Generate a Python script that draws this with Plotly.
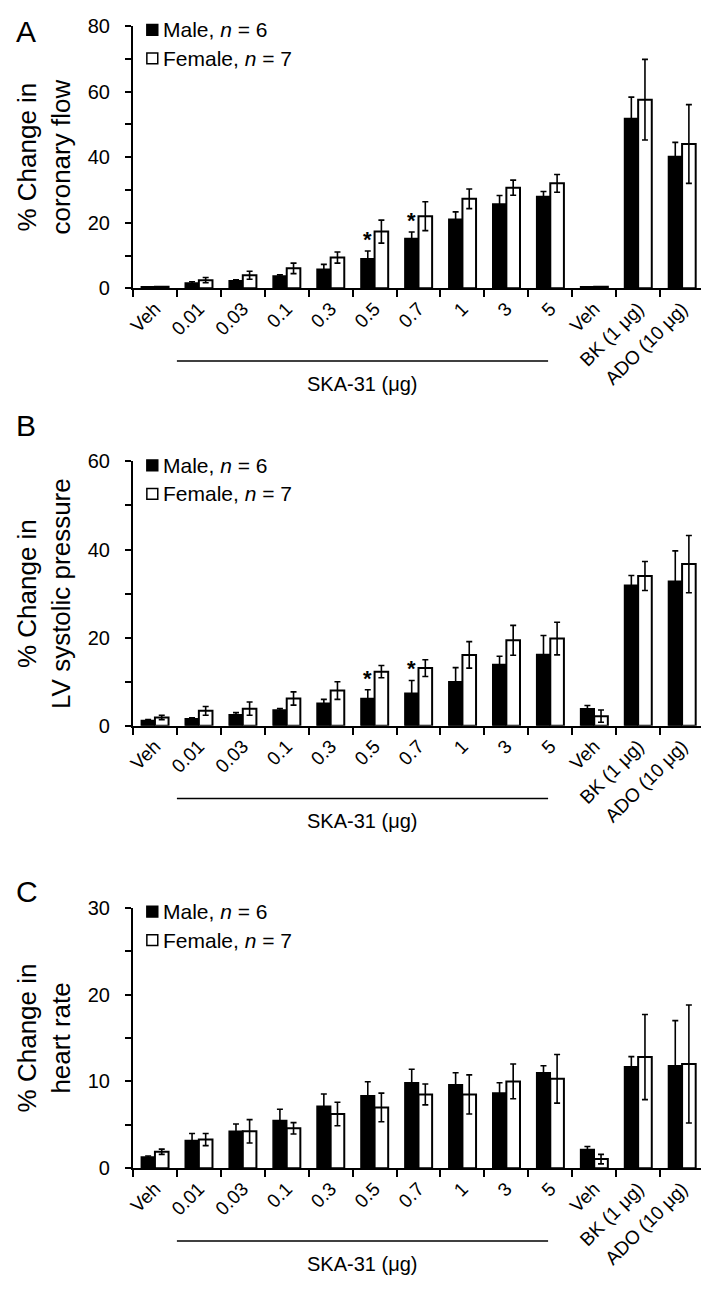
import plotly.graph_objects as go

# ---------------- data ----------------
categories = ["Veh", "0.01", "0.03", "0.1", "0.3", "0.5", "0.7", "1", "3", "5", "Veh", "BK (1 μg)", "ADO (10 μg)"]
cat_keys = ["k%d" % i for i in range(len(categories))]

cf_male = [0.5, 1.6, 2.3, 3.8, 5.8, 9.0, 15.2, 21.1, 25.7, 28.0, 0.5, 51.8, 40.2]
cf_male_err = [0.0, 0.4, 0.3, 0.3, 1.5, 2.4, 2.0, 2.2, 2.6, 1.5, 0.0, 6.5, 4.3]
cf_female = [0.5, 2.5, 4.0, 6.1, 9.4, 17.3, 22.0, 27.3, 30.7, 32.0, 0.5, 57.5, 44.0]
cf_female_err = [0.0, 0.8, 1.2, 1.6, 1.7, 3.5, 4.4, 3.0, 2.3, 2.7, 0.0, 12.3, 12.0]

lv_male = [1.2, 1.6, 2.5, 3.6, 5.1, 6.2, 7.4, 10.0, 13.9, 16.2, 3.9, 31.9, 32.8]
lv_male_err = [0.2, 0.2, 0.5, 0.3, 0.9, 2.0, 2.9, 3.2, 1.9, 4.3, 0.7, 2.2, 6.9]
lv_female = [1.9, 3.4, 3.9, 6.2, 8.0, 12.3, 13.1, 16.1, 19.4, 19.8, 2.2, 34.0, 36.7]
lv_female_err = [0.5, 1.0, 1.5, 1.5, 2.0, 1.4, 1.9, 3.0, 3.4, 3.7, 1.4, 3.3, 6.5]

hr_male = [1.3, 3.2, 4.25, 5.5, 7.15, 8.35, 9.85, 9.6, 8.65, 11.0, 2.15, 11.7, 11.8]
hr_male_err = [0.1, 0.8, 0.85, 1.3, 1.4, 1.6, 1.55, 1.4, 1.2, 0.8, 0.35, 1.15, 5.2]
hr_female = [1.9, 3.3, 4.25, 4.6, 6.25, 7.0, 8.5, 8.5, 10.0, 10.3, 1.05, 12.8, 12.0]
hr_female_err = [0.3, 0.7, 1.35, 0.65, 1.35, 1.65, 1.2, 2.25, 2.0, 2.8, 0.55, 4.9, 6.8]

panel_letters = ["A", "B", "C"]
y_titles = ["% Change in<br>coronary flow", "% Change in<br>LV systolic pressure", "% Change in<br>heart rate"]
y_max = [80, 60, 30]
y_dtick = [20, 20, 10]
y_minor = [10, 10, 5]
star_idx = [[5, 6], [5, 6], []]
male_label = "Male, <i>n</i> = 6"
female_label = "Female, <i>n</i> = 7"
ska_label = "SKA-31 (μg)"

# ---------------- layout geometry (pixels, figure coords) ----------------
W, H = 701, 1301
x_left, x_right = 120, 696
panel_px = [(7, 274), (450, 719), (904, 1169)]   # (top, bottom)
letter_cy = [13, 414, 888]

FONT = "Liberation Sans, Arial, sans-serif"


def px(xp):
    return xp / W


def py(yp):
    return (H - yp) / H


fig = go.Figure()
series = [
    (cf_male, cf_male_err, cf_female, cf_female_err),
    (lv_male, lv_male_err, lv_female, lv_female_err),
    (hr_male, hr_male_err, hr_female, hr_female_err),
]

layout = dict(
    width=W, height=H,
    margin=dict(l=0, r=0, t=0, b=0),
    paper_bgcolor="white", plot_bgcolor="white",
    font=dict(family=FONT, color="black", size=19),
    barmode="group", bargap=0.38, bargroupgap=0.0,
    showlegend=False,
)

annotations = []
shapes = []

for p in range(3):
    sfx = "" if p == 0 else str(p + 1)
    xa, ya = "x" + sfx, "y" + sfx
    m, me, f, fe = series[p]
    fig.add_trace(go.Bar(
        x=cat_keys, y=m, name="Male, n = 6", xaxis=xa, yaxis=ya,
        marker=dict(color="black", line=dict(color="black", width=1.5)),
        error_y=dict(type="data", array=me, visible=True, color="black", thickness=1.6, width=3),
    ))
    fig.add_trace(go.Bar(
        x=cat_keys, y=f, name="Female, n = 7", xaxis=xa, yaxis=ya,
        marker=dict(color="white", line=dict(color="black", width=2)),
        error_y=dict(type="data", array=fe, visible=True, color="black", thickness=1.6, width=3),
    ))

    top, bot = panel_px[p]
    layout["xaxis" + sfx] = dict(
        domain=[px(x_left), px(x_right)], anchor=ya,
        type="category", categoryorder="array", categoryarray=cat_keys,
        tickmode="array", tickvals=cat_keys, ticktext=categories,
        tickson="boundaries", ticks="outside", ticklen=7, tickwidth=2, tickcolor="black",
        tickangle=-45, tickfont=dict(size=19, family=FONT),
        showline=True, linecolor="black", linewidth=2, showgrid=False, zeroline=False,
        range=[-0.5, 12.5], fixedrange=True,
    )
    layout["yaxis" + sfx] = dict(
        domain=[py(bot), py(top)], anchor=xa, range=[0, y_max[p]],
        tickmode="linear", tick0=0, dtick=y_dtick[p],
        ticks="outside", ticklen=6, tickwidth=2, tickcolor="black",
        minor=dict(ticks="outside", dtick=y_minor[p], tick0=0, ticklen=6, tickwidth=2, tickcolor="black"),
        tickfont=dict(size=20, family=FONT), ticklabelstandoff=11,
        showline=True, linecolor="black", linewidth=2, showgrid=False, zeroline=False,
        title=dict(text=y_titles[p], font=dict(size=26, family=FONT), standoff=10),
        fixedrange=True,
    )

    # panel letter
    annotations.append(dict(
        text=panel_letters[p], xref="paper", yref="paper",
        x=px(0), y=py(letter_cy[p]), xanchor="left", yanchor="middle",
        showarrow=False, font=dict(size=30, family=FONT),
    ))

    # legend (square swatch + label)
    for k, (lab, fill) in enumerate([(male_label, "black"), (female_label, "white")]):
        cy = top + 4 + 29 * k
        shapes.append(dict(
            type="rect", xref="paper", yref="paper",
            x0=px(134), x1=px(145), y0=py(cy + 5.5), y1=py(cy - 5.5),
            fillcolor=fill, line=dict(color="black", width=1.5),
        ))
        annotations.append(dict(
            text=lab, xref="paper", yref="paper", x=px(148), y=py(cy),
            xanchor="left", yanchor="middle", showarrow=False,
            font=dict(size=21, family=FONT),
        ))

    # SKA-31 bracket line and label
    shapes.append(dict(
        type="line", xref=xa, yref="paper", x0=0.5, x1=8.95,
        y0=py(bot + 74), y1=py(bot + 74), line=dict(color="black", width=1.5),
    ))
    annotations.append(dict(
        text=ska_label, xref=xa, yref="paper", x=4.72, y=py(bot + 84),
        xanchor="center", yanchor="top", showarrow=False, font=dict(size=20, family=FONT),
    ))

    # significance asterisks above male bars
    for i in star_idx[p]:
        annotations.append(dict(
            text="<b>*</b>", xref=xa, yref=ya, x=cat_keys[i], y=m[i] + me[i],
            xshift=-7, yshift=-3, xanchor="center", yanchor="bottom", showarrow=False,
            font=dict(size=22, family=FONT),
        ))

layout["annotations"] = annotations
layout["shapes"] = shapes
fig.update_layout(**layout)
fig.write_html("out.html")
